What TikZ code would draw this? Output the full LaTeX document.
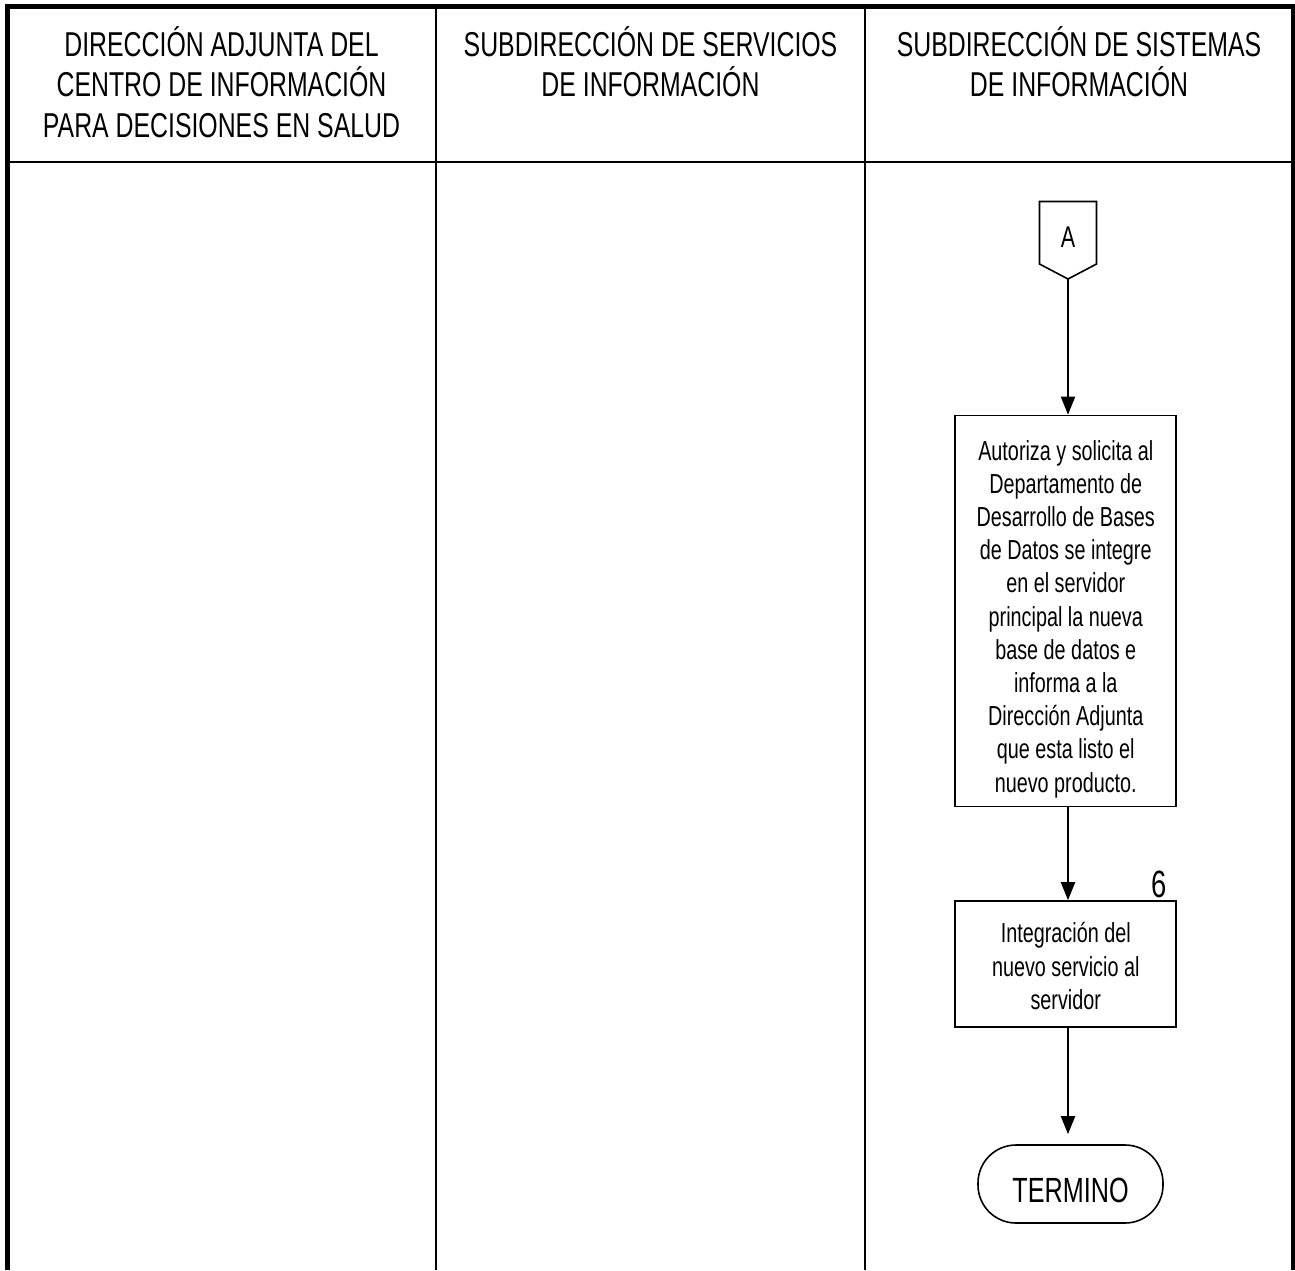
\documentclass[tikz,border=0pt]{standalone}
\usepackage{fontspec}
\setmainfont{Liberation Sans}[FakeStretch=0.72]
\usetikzlibrary{arrows.meta,calc}
\begin{document}
\begin{tikzpicture}[x=1pt,y=-1pt,
  head/.style={anchor=north,inner sep=0pt,align=center,font=\fontsize{34.5}{40.5}\selectfont},
  procbox/.style={draw,line width=1.6pt,rectangle,inner sep=0pt},
  boxtext/.style={inner sep=0pt,align=center,font=\fontsize{27.5}{33.2}\selectfont},
  termbox/.style={draw,line width=1.6pt,rectangle,rounded corners=38pt,minimum width=185pt,minimum height=78pt,inner sep=0pt,text height=37pt,text depth=0pt,font=\fontsize{35}{40}\selectfont},
  flow/.style={line width=2pt,-{Triangle[length=18pt,width=14pt]}},
  frame/.style={line width=5pt},
  lane/.style={line width=2.6pt}
]
\useasboundingbox (0,0) rectangle (1295,1270);
% frame and lanes
\draw[frame] (7.5,1270) -- (7.5,6.5) -- (1293.5,6.5) -- (1293.5,1270);
\draw[lane] (7.5,162) -- (1293.5,162);
\draw[lane] (436,6.5) -- (436,1270);
\draw[lane] (865,6.5) -- (865,1270);
% headers
\node[head] (h1) at (221.5,26) {DIRECCIÓN ADJUNTA DEL\\CENTRO DE INFORMACIÓN\\PARA DECISIONES EN SALUD};
\node[head] (h2) at (650.5,26) {SUBDIRECCIÓN DE SERVICIOS\\DE INFORMACIÓN};
\node[head] (h3) at (1079,26) {SUBDIRECCIÓN DE SISTEMAS\\DE INFORMACIÓN};
% off-page connector
\draw[line width=1.6pt] (1039.5,201.5) -- (1096.5,201.5) -- (1096.5,264) -- (1068,279) -- (1039.5,264) -- cycle;
\node[inner sep=0pt,font=\fontsize{30}{34}\selectfont] (A) at (1068,237) {A};
\coordinate (Abot) at (1068,279);
% process boxes
\node[procbox,minimum width=221pt,minimum height=391pt] (b1) at (1065.75,611) {};
\node[boxtext] (b1t) at ([yshift=-8pt]b1.center) {Autoriza y solicita al\\Departamento de\\Desarrollo de Bases\\de Datos se integre\\en el servidor\\principal la nueva\\base de datos e\\informa a la\\Dirección Adjunta\\que esta listo el\\nuevo producto.};
\node[procbox,minimum width=221pt,minimum height=126pt] (b2) at (1065.75,964) {};
\node[boxtext] (b2t) at ([yshift=-2pt]b2.center) {Integración del\\nuevo servicio al\\servidor};
\node[font=\fontsize{38}{40}\selectfont,inner sep=0pt,anchor=south] (n6) at (1159,898) {6};
\node[termbox] (t) at (1070.5,1184) {TERMINO};
% connectors
\draw[flow] (Abot) -- (b1.north -| Abot);
\draw[flow] (b1.south -| Abot) -- (b2.north -| Abot);
\draw[flow,shorten >=10pt] (b2.south -| Abot) -- (t.north -| Abot);
\end{tikzpicture}
\end{document}
